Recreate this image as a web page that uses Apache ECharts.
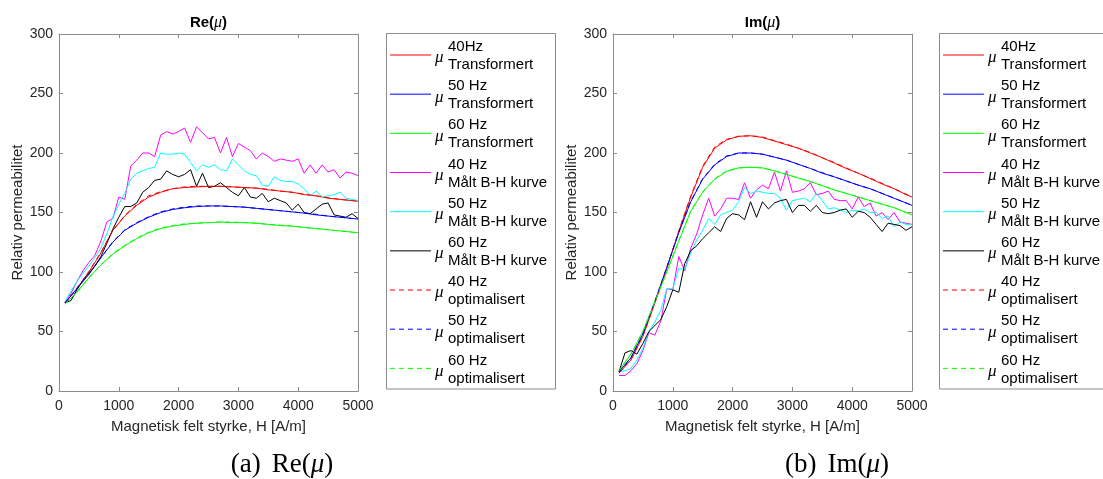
<!DOCTYPE html>
<html>
<head>
<meta charset="utf-8">
<script src="https://cdn.jsdelivr.net/npm/echarts@6/dist/echarts.min.js"></script>
<style>
  html, body { margin: 0; padding: 0; background: #fff; }
  #c { width: 1103px; height: 479px; }
</style>
</head>
<body>
<div id="c"></div>
<script>
// H grid of the measured curves (A/m)
var H_MEAS = [100, 200, 300, 400, 500, 600, 700, 800, 900, 1000,
  1100, 1200, 1300, 1400, 1500, 1600, 1700, 1800, 1900, 2000,
  2100, 2200, 2300, 2400, 2500, 2600, 2700, 2800, 2900, 3000,
  3100, 3200, 3300, 3400, 3500, 3600, 3700, 3800, 3900, 4000,
  4100, 4200, 4300, 4400, 4500, 4600, 4700, 4800, 4900, 5000];
// H grid of the smooth (transformed / optimised) curves
var H_FIT = [100, 300, 500, 700, 900, 1100, 1300, 1500, 1700, 1900, 2100, 2300, 2500,
  2700, 2900, 3100, 3300, 3500, 3700, 3900, 4100, 4300, 4500, 4700, 4900, 5000];

// ---- Re(mu) ----
var RE_T40 = [74, 86, 100, 116, 135, 147, 156, 163, 167, 170, 171, 171.5, 172,
  172, 171.5, 171, 170.5, 169, 168, 167, 165, 164, 162, 161, 160, 159.5];
var RE_T50 = [74, 86, 98, 112, 125, 135, 141, 146, 150, 152.5, 154, 155, 155.5,
  155.5, 155, 154.5, 153.5, 152.5, 151.5, 150.5, 149.5, 148, 147, 146, 145, 144.5];
var RE_T60 = [73, 83, 95, 106, 115, 122, 128, 133, 136.5, 138.5, 140, 141, 141.5,
  142, 141.5, 141.5, 141, 140, 139, 138.5, 137.5, 136.5, 135.5, 134.5, 133.5, 133];
var RE_M40 = [74, 82, 92, 101, 108, 114, 126, 142, 145, 163,
  161, 189, 194, 200, 200, 197, 215, 218, 216, 218,
  221, 209, 222, 217, 212, 213, 200, 213, 197, 208,
  205, 202, 195, 200, 197, 193, 195, 194, 193, 195,
  183, 190, 183, 190, 184, 186, 179, 184, 183, 181];
var RE_M50 = [75, 84, 92, 99, 105, 112, 120, 132, 146, 157,
  166, 178, 183, 185, 187, 188, 200, 199, 199, 200,
  199, 192, 185, 190, 188, 190, 186, 185, 195, 190,
  185, 182, 181, 173, 172, 180, 177, 176, 176, 174,
  170, 164, 168, 163, 164, 165, 167, 162, 161, 160];
var RE_M60 = [74, 76, 85, 93, 99, 105, 113, 124, 136, 146,
  155, 155, 158, 167, 171, 177, 178, 185, 182, 180,
  182, 186, 172, 183, 171, 172, 175, 171, 167, 164,
  171, 163, 162, 166, 159, 162, 160, 158, 152, 157,
  150, 149, 153, 157, 158, 148, 147, 146, 149, 145];
var RE_O40 = [74, 86.5, 100.5, 116.5, 135, 147.5, 157, 164, 167.5, 170, 171.5, 172, 172,
  172, 171.5, 171, 170.5, 169.5, 168, 167, 165.5, 164, 162.5, 161, 160, 159.5];
var RE_O50 = [74, 86.5, 98.5, 112, 125.5, 135.5, 141.5, 146.5, 150.5, 153, 154.5, 155.5, 155.5,
  155.5, 155, 154.5, 153.5, 152.5, 151.5, 150.5, 149.5, 148.5, 147, 146, 145, 144.5];
var RE_O60 = [73, 83.5, 95.5, 106, 115.5, 122.5, 128.5, 133.5, 137, 139, 140.5, 141, 141.5,
  142, 142, 141.5, 141, 140, 139.5, 138.5, 137.5, 136.5, 135.5, 134.5, 133.5, 133];

// ---- Im(mu) ----
var IM_T40 = [15, 26, 46, 74, 103, 134, 163, 188, 204, 211, 214, 214.5, 213,
  210, 207, 204, 200, 196, 191.5, 187, 183, 178.5, 174, 170, 165, 163];
var IM_T50 = [16, 28, 48, 75, 104, 133, 159, 178, 190, 197, 200, 200, 199,
  196.5, 194, 190.5, 187, 183, 180, 176.5, 173, 170, 166, 162, 158, 156];
var IM_T60 = [17, 31, 50, 75, 100, 126, 151, 167, 178, 184.5, 187.5, 188, 187.5,
  185, 182, 179, 176, 172.5, 169, 166, 163, 160, 157, 154, 150, 148];
var IM_M40 = [13, 13, 17, 23, 34, 49, 47, 59, 86, 85,
  113, 101, 120, 132, 148, 162, 147, 153, 162, 162,
  161, 175, 162, 169, 173, 170, 184, 168, 185, 167,
  168, 170, 175, 165, 166, 168, 161, 160, 160, 153,
  163, 155, 158, 147, 150, 144, 150, 142, 141, 140];
var IM_M50 = [16, 17, 19, 26, 36, 50, 58, 68, 86, 86,
  103, 102, 116, 127, 135, 145, 140, 148, 150, 152,
  159, 171, 166, 168, 167, 166, 166, 162, 152, 160,
  161, 162, 159, 166, 160, 153, 154, 152, 150, 152,
  151, 153, 150, 150, 145, 147, 138, 142, 140, 140];
var IM_M60 = [16, 32, 34, 31, 40, 50, 55, 60, 71, 85,
  83, 107, 118, 122, 128, 133, 138, 134, 145, 149,
  148, 144, 159, 146, 159, 153, 158, 160, 161, 150,
  156, 156, 151, 156, 150, 149, 150, 152, 153, 146,
  151, 150, 146, 140, 134, 141, 140, 139, 135, 138];
var IM_O40 = [15, 26.5, 46, 74, 103.5, 134.5, 164, 189, 205, 211.5, 214, 214.5, 213.5,
  210.5, 207.5, 204, 200.5, 196, 192, 187.5, 183, 179, 174.5, 170, 165.5, 163];
var IM_O50 = [16, 28, 48, 75.5, 104, 133.5, 159.5, 178.5, 190.5, 197.5, 200, 200, 199,
  196.5, 194, 190.5, 187, 183.5, 180, 176.5, 173, 170, 166, 162, 158, 156];
var IM_O60 = [17, 31, 50, 75, 100.5, 126.5, 151.5, 167.5, 178.5, 185, 187.5, 188, 187.5,
  185, 182, 179, 176, 172.5, 169, 166, 163, 160, 157, 154, 150, 148];

// legend entries (superscript / subscript text)
var LEG_SUP = ['40Hz', '50 Hz', '60 Hz', '40 Hz', '50 Hz', '60 Hz', '40 Hz', '50 Hz', '60 Hz'];
var LEG_SUB = ['Transformert', 'Transformert', 'Transformert',
  'Målt B-H kurve', 'Målt B-H kurve', 'Målt B-H kurve',
  'optimalisert', 'optimalisert', 'optimalisert'];
var COLORS = ['#ff0000', '#0000ff', '#00ff00', '#ff00ff', '#00ffff', '#000000', '#ff0000', '#0000ff', '#00ff00'];

var SANS = '"Liberation Sans", Arial, Helvetica, sans-serif';
var SERIF = '"Liberation Serif", "Times New Roman", serif';
var INK = '#262626';
var FRAME = '#8c8c8c';

var plots = [
  { left: 59, title: 'Re', tag: '(a)', capX: 282, legX: 386, legW: 169,
    data: [RE_T40, RE_T50, RE_T60, RE_M40, RE_M50, RE_M60, RE_O40, RE_O50, RE_O60] },
  { left: 613, title: 'Im', tag: '(b)', capX: 837, legX: 939, legW: 200,
    data: [IM_T40, IM_T50, IM_T60, IM_M40, IM_M50, IM_M60, IM_O40, IM_O50, IM_O60] }
];
var PW = 299, PT = 34, PH = 357;

function zip(xs, ys) { return xs.map(function (x, i) { return [x, ys[i]]; }); }
function plain(v) { return String(v); }

var grids = [], xAxes = [], yAxes = [], series = [], graphics = [];

plots.forEach(function (p, pi) {
  grids.push({ left: p.left, top: PT, width: PW, height: PH, containLabel: false });
  var line = { show: true, onZero: false, lineStyle: { color: FRAME, width: 1 } };
  var tick = { show: true, inside: true, length: 4, lineStyle: { color: FRAME, width: 1 } };
  xAxes.push({
    gridIndex: pi, type: 'value', min: 0, max: 5000, interval: 1000, position: 'bottom',
    axisLine: line, axisTick: tick, splitLine: { show: false },
    axisLabel: { color: INK, fontSize: 14, fontFamily: SANS, margin: 8, formatter: plain },
    name: 'Magnetisk felt styrke, H [A/m]', nameLocation: 'middle', nameGap: 28,
    nameTextStyle: { color: INK, fontSize: 15, fontFamily: SANS }
  });
  xAxes.push({
    gridIndex: pi, type: 'value', min: 0, max: 5000, interval: 1000, position: 'top',
    axisLine: line, axisTick: tick, splitLine: { show: false }, axisLabel: { show: false }
  });
  yAxes.push({
    gridIndex: pi, type: 'value', min: 0, max: 300, interval: 50, position: 'left',
    axisLine: line, axisTick: tick, splitLine: { show: false },
    axisLabel: { color: INK, fontSize: 14, fontFamily: SANS, margin: 6, formatter: plain },
    name: 'Relativ permeabilitet', nameLocation: 'middle', nameGap: 33,
    nameTextStyle: { color: INK, fontSize: 15, fontFamily: SANS }
  });
  yAxes.push({
    gridIndex: pi, type: 'value', min: 0, max: 300, interval: 50, position: 'right',
    axisLine: line, axisTick: tick, splitLine: { show: false }, axisLabel: { show: false }
  });

  p.data.forEach(function (vals, k) {
    var xs = (k >= 3 && k <= 5) ? H_MEAS : H_FIT;
    series.push({
      name: LEG_SUP[k] + ' ' + LEG_SUB[k], type: 'line',
      xAxisIndex: pi * 2, yAxisIndex: pi * 2,
      data: zip(xs, vals), showSymbol: false, symbol: 'none', smooth: false,
      lineStyle: { color: COLORS[k], width: 1, type: k >= 6 ? [5, 4] : 'solid' },
      z: k >= 6 ? 3 : 2, silent: true
    });
  });

  // title
  graphics.push({
    type: 'text', x: p.left + PW / 2, y: 23,
    style: {
      text: '{b|' + p.title + '(}{i|μ}{b|)}', align: 'center', verticalAlign: 'middle',
      rich: {
        b: { fontFamily: SANS, fontWeight: 'bold', fontSize: 15, fill: '#000' },
        i: { fontFamily: SERIF, fontStyle: 'italic', fontSize: 16, fill: '#000' }
      }
    }
  });
  // caption (LaTeX-style subfigure label)
  graphics.push({
    type: 'text', x: p.capX, y: 465,
    style: {
      text: '{r|' + p.tag + '}{gap|}{r|' + p.title + '(}{i|μ}{r|)}',
      align: 'center', verticalAlign: 'middle',
      rich: {
        r: { fontFamily: SERIF, fontSize: 27, fill: '#000' },
        gap: { width: 11 },
        i: { fontFamily: SERIF, fontStyle: 'italic', fontSize: 27, fill: '#000' }
      }
    }
  });
  // legend box
  graphics.push({
    type: 'rect', shape: { x: p.legX + 0.5, y: 33.5, width: p.legW, height: 355.5 },
    style: { fill: '#fff', stroke: FRAME, lineWidth: 1 }, z: 10
  });
  for (var k = 0; k < 9; k++) {
    var ly = 55 + k * 39.17;
    graphics.push({
      type: 'line', z: 11,
      shape: { x1: p.legX + 4, y1: ly, x2: p.legX + 45, y2: ly },
      style: { stroke: COLORS[k], lineWidth: 1, lineDash: k >= 6 ? [5, 4] : null }
    });
    graphics.push({
      type: 'text', z: 11, x: p.legX + 49, y: ly + 3,
      style: { text: 'μ', fontFamily: SERIF, fontStyle: 'italic', fontSize: 17, fill: '#000', verticalAlign: 'middle' }
    });
    graphics.push({
      type: 'text', z: 11, x: p.legX + 62, y: ly - 8,
      style: { text: LEG_SUP[k], fontFamily: SANS, fontSize: 15, fill: '#000', verticalAlign: 'middle' }
    });
    graphics.push({
      type: 'text', z: 11, x: p.legX + 62, y: ly + 10,
      style: { text: LEG_SUB[k], fontFamily: SANS, fontSize: 15, fill: '#000', verticalAlign: 'middle' }
    });
  }
});

var chart = echarts.init(document.getElementById('c'), null, { renderer: 'canvas' });
chart.setOption({
  animation: false,
  backgroundColor: '#fff',
  grid: grids,
  xAxis: xAxes,
  yAxis: yAxes,
  series: series,
  graphic: graphics
});
</script>
</body>
</html>
